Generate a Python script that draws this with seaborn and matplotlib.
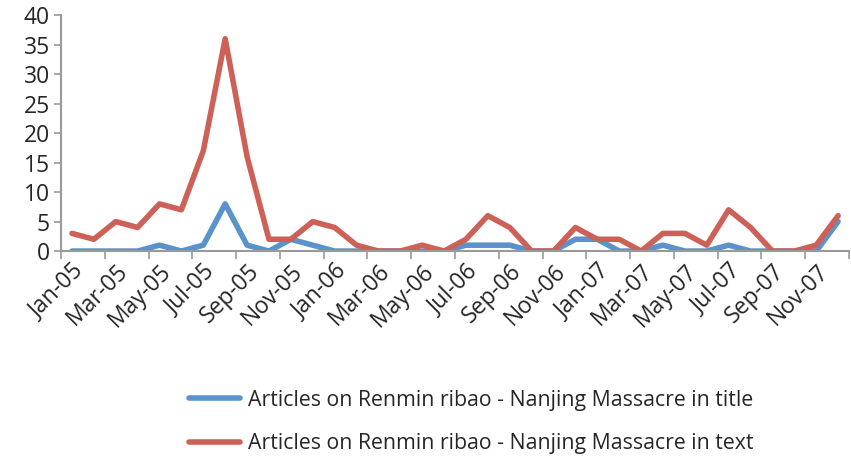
import matplotlib
matplotlib.use("Agg")
import matplotlib.pyplot as plt
import seaborn as sns
import pandas as pd

months = ["Jan-05", "Feb-05", "Mar-05", "Apr-05", "May-05", "Jun-05", "Jul-05", "Aug-05",
          "Sep-05", "Oct-05", "Nov-05", "Dec-05", "Jan-06", "Feb-06", "Mar-06", "Apr-06",
          "May-06", "Jun-06", "Jul-06", "Aug-06", "Sep-06", "Oct-06", "Nov-06", "Dec-06",
          "Jan-07", "Feb-07", "Mar-07", "Apr-07", "May-07", "Jun-07", "Jul-07", "Aug-07",
          "Sep-07", "Oct-07", "Nov-07", "Dec-07"]
in_title = [0, 0, 0, 0, 1, 0, 1, 8, 1, 0, 2, 1,
            0, 0, 0, 0, 0, 0, 1, 1, 1, 0, 0, 2,
            2, 0, 0, 1, 0, 0, 1, 0, 0, 0, 0, 5]
in_text = [3, 2, 5, 4, 8, 7, 17, 36, 16, 2, 2, 5,
           4, 1, 0, 0, 1, 0, 2, 6, 4, 0, 0, 4,
           2, 2, 0, 3, 3, 1, 7, 4, 0, 0, 1, 6]
series_names = ["Articles on Renmin ribao - Nanjing Massacre in title",
                "Articles on Renmin ribao - Nanjing Massacre in text"]

df = pd.DataFrame({"idx": list(range(len(months))) * 2,
                   "value": in_title + in_text,
                   "series": [series_names[0]] * len(months) + [series_names[1]] * len(months)})

sns.set_style("white")
plt.rcParams["font.family"] = ["Open Sans", "DejaVu Sans"]

fig = plt.figure(figsize=(8.51, 4.59), dpi=100)
ax = fig.add_axes([0.0717, 0.453, 0.926, 0.514])

sns.lineplot(data=df, x="idx", y="value", hue="series",
             palette=["#5A92CB", "#CD6158"], linewidth=4, ax=ax, legend=False)

grey = "#999999"
ax.set_xlim(-0.5, len(months) - 0.5)
ax.set_ylim(0, 40)
ax.set_yticks(range(0, 41, 5))
ax.tick_params(axis="y", labelsize=16.5, color=grey, length=5, width=1.2, direction="out", left=True, pad=3)

# tick marks at category boundaries, labels at every other category
ax.set_xticks([i - 0.5 for i in range(0, len(months) + 1, 2)])
ax.set_xticklabels([])
ax.set_xticks(list(range(0, len(months), 2)), minor=True)
ax.set_xticklabels(months[::2], minor=True, rotation=45, ha="right", rotation_mode="anchor")
ax.tick_params(axis="x", which="major", color=grey, length=6, width=1.2, direction="out", bottom=True)
ax.tick_params(axis="x", which="minor", length=0, labelsize=16.5, pad=6)

for s in ["top", "right"]:
    ax.spines[s].set_visible(False)
for s in ["left", "bottom"]:
    ax.spines[s].set_color(grey)
    ax.spines[s].set_linewidth(1.5)
ax.set_xlabel("")
ax.set_ylabel("")

handles = [plt.Line2D([], [], color=c, linewidth=4) for c in ["#5A92CB", "#CD6158"]]
fig.legend(handles, series_names, loc="center", bbox_to_anchor=(0.554, 0.081),
           frameon=False, fontsize=15.3, handlelength=2.4, labelspacing=1.05, handletextpad=0.4)

fig.savefig("out.png", dpi=100)
